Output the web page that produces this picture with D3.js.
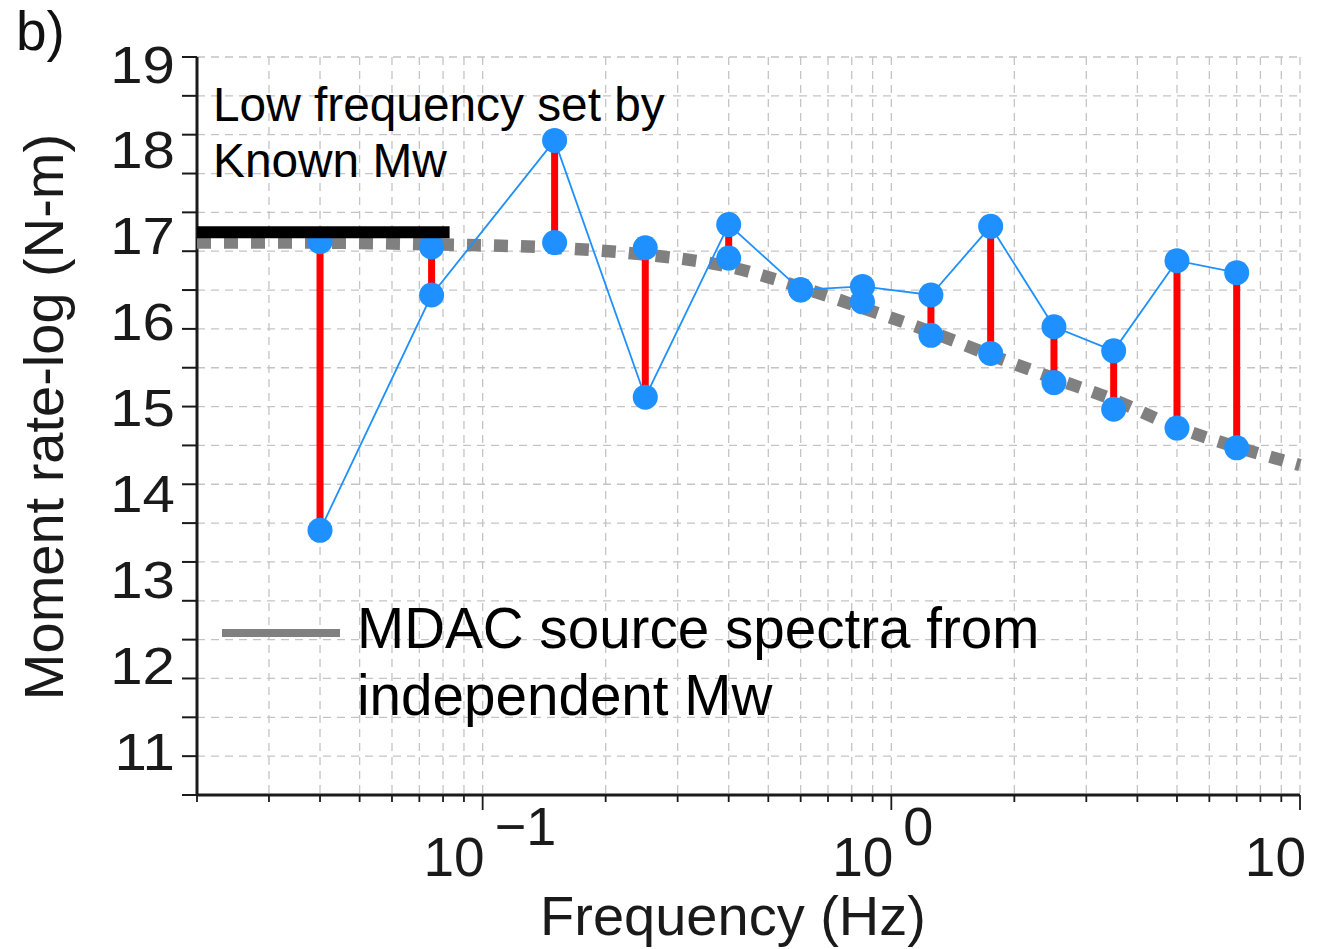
<!DOCTYPE html>
<html>
<head>
<meta charset="utf-8">
<script src="https://cdn.jsdelivr.net/npm/d3@7"></script>
<style>
  body { margin: 0; background: #fff; }
  text { font-family: "Liberation Sans", Arial, Helvetica, sans-serif; }
</style>
</head>
<body>
<div id="container"></div>
<script>
/* DATA */
// frequencies (Hz) of the spectral points
const freqs = [0.04, 0.075, 0.15, 0.25, 0.4, 0.6, 0.85, 1.25, 1.75, 2.5, 3.5, 5, 7];
// observed moment rate (log N-m), blue connected line
const observed = [13.57, 16.31, 18.11, 15.12, 17.13, 16.37, 16.41, 16.31, 17.11, 15.94, 15.66, 16.71, 16.57];
// MDAC value at the same frequencies
const mdacAtObs = [16.93, 16.87, 16.92, 16.86, 16.74, 16.37, 16.23, 15.84, 15.63, 15.29, 14.98, 14.76, 14.53];
// MDAC source spectrum (gray dotted)
const mdacFreqs = [0.02, 0.04, 0.075, 0.15, 0.25, 0.4, 0.6, 0.85, 1.25, 1.75, 2.5, 3.5, 5, 7, 10];
const mdacCurve = [16.92, 16.92, 16.90, 16.86, 16.78, 16.64, 16.40, 16.16, 15.88, 15.61, 15.34, 15.09, 14.77, 14.54, 14.33];
// low frequency level set by known Mw (black bar)
const knownMwFreqs = [0.02, 0.083];
const knownMwLevel = 17.04;
// tick labels
const yTickLabels = [11, 12, 13, 14, 15, 16, 17, 18, 19];
const xMajorTicks = [0.1, 1, 10];
const xMajorExp = ["\u22121", "0", null];

/* CONSTANTS */
const width = 1329, height = 949;
const plotLeft = 197, plotRight = 1300, plotTop = 57, plotBottom = 795;
const blue = "#1e90ff", red = "#ff0000", gray = "#808080";

const svg = d3.select("#container")
  .append("svg")
  .attr("width", width)
  .attr("height", height)
  .style("background-color", "white");

// SCALES
const x = d3.scaleLog().domain([0.02, 10]).range([plotLeft, plotRight]);
const y = d3.scaleLinear().domain([11, 19]).range([751, 64]);
// the tick / grid rows are spaced independently of the labels
const gridY = d3.scaleLinear().domain([0, 19]).range([plotBottom, plotTop]);
const gridRows = d3.range(0, 20);

// GRID
const grid = svg.append("g")
  .attr("stroke", "#c4c4c4")
  .attr("stroke-width", 1.3)
  .attr("stroke-dasharray", "8,6");

grid.selectAll("line.h")
  .data(gridRows.filter(d => d > 0))
  .join("line")
  .attr("class", "h")
  .attr("x1", plotLeft).attr("x2", plotRight)
  .attr("y1", d => gridY(d)).attr("y2", d => gridY(d));

grid.selectAll("line.v")
  .data(x.ticks().filter(d => d > 0.02))
  .join("line")
  .attr("class", "v")
  .attr("x1", d => x(d)).attr("x2", d => x(d))
  .attr("y1", plotTop).attr("y2", plotBottom);

// AXES
const axes = svg.append("g").attr("stroke", "#1a1a1a");

axes.append("line")
  .attr("x1", plotLeft).attr("x2", plotLeft)
  .attr("y1", plotTop).attr("y2", plotBottom)
  .attr("stroke-width", 3);
axes.append("line")
  .attr("x1", plotLeft).attr("x2", plotRight)
  .attr("y1", plotBottom).attr("y2", plotBottom)
  .attr("stroke-width", 3);

axes.selectAll("line.ytick")
  .data(gridRows)
  .join("line")
  .attr("class", "ytick")
  .attr("x1", plotLeft - 15).attr("x2", plotLeft)
  .attr("y1", d => gridY(d)).attr("y2", d => gridY(d))
  .attr("stroke-width", 2);

axes.selectAll("line.xtick")
  .data(x.ticks())
  .join("line")
  .attr("class", "xtick")
  .attr("x1", d => x(d)).attr("x2", d => x(d))
  .attr("y1", plotBottom)
  .attr("y2", d => xMajorTicks.includes(d) ? plotBottom + 15 : plotBottom + 7)
  .attr("stroke-width", 1.8);

// TICK LABELS
svg.selectAll("text.ylab")
  .data(yTickLabels)
  .join("text")
  .attr("class", "ylab")
  .attr("transform", d => `translate(175,${y(d) + 18.5}) scale(1.12,1)`)
  .attr("text-anchor", "end")
  .attr("font-size", 52)
  .attr("fill", "#1a1a1a")
  .text(d => d);

xMajorTicks.forEach((d, i) => {
  const last = xMajorExp[i] === null;
  svg.append("text")
    .attr("x", last ? x(d) + 6 : x(d) + 2)
    .attr("y", 876)
    .attr("text-anchor", "end")
    .attr("font-size", 55)
    .attr("fill", "#1a1a1a")
    .text("10");
  if (!last) {
    svg.append("text")
      .attr("x", x(d) + 12)
      .attr("y", 845)
      .attr("font-size", 54)
      .attr("fill", "#1a1a1a")
      .text(xMajorExp[i]);
  }
});

// AXIS TITLES
svg.append("text")
  .attr("x", 733)
  .attr("y", 935)
  .attr("text-anchor", "middle")
  .attr("font-size", 56)
  .attr("fill", "#1a1a1a")
  .text("Frequency (Hz)");

svg.append("text")
  .attr("transform", "translate(63,417) rotate(-90)")
  .attr("text-anchor", "middle")
  .attr("font-size", 56)
  .attr("fill", "#1a1a1a")
  .text("Moment rate-log (N-m)");

svg.append("text")
  .attr("x", 16)
  .attr("y", 50)
  .attr("font-size", 55)
  .attr("fill", "#111")
  .text("b)");

// MDAC CURVE (gray dotted)
const mdacLine = d3.line()
  .x(d => x(d[0]))
  .y(d => y(d[1]))
  .curve(d3.curveMonotoneX);

svg.append("path")
  .attr("d", mdacLine(d3.zip(mdacFreqs, mdacCurve)))
  .attr("fill", "none")
  .attr("stroke", gray)
  .attr("stroke-width", 12.5)
  .attr("stroke-dasharray", "14,13");

// RED RESIDUAL BARS
svg.selectAll("line.resid")
  .data(freqs.map((f, i) => ({ f, a: observed[i], b: mdacAtObs[i] })))
  .join("line")
  .attr("class", "resid")
  .attr("x1", d => x(d.f)).attr("x2", d => x(d.f))
  .attr("y1", d => y(d.a)).attr("y2", d => y(d.b))
  .attr("stroke", red)
  .attr("stroke-width", 7);

// OBSERVED LINE
const obsLine = d3.line()
  .x(d => x(d[0]))
  .y(d => y(d[1]));

svg.append("path")
  .attr("d", obsLine(d3.zip(freqs, observed)))
  .attr("fill", "none")
  .attr("stroke", blue)
  .attr("stroke-width", 1.8);

// POINTS
const pts = freqs.flatMap((f, i) => [[f, mdacAtObs[i]], [f, observed[i]]]);
svg.selectAll("circle.pt")
  .data(pts)
  .join("circle")
  .attr("class", "pt")
  .attr("cx", d => x(d[0]))
  .attr("cy", d => y(d[1]))
  .attr("r", 12.5)
  .attr("fill", blue);

// KNOWN MW BAR
svg.append("line")
  .attr("x1", x(knownMwFreqs[0]))
  .attr("x2", x(knownMwFreqs[1]))
  .attr("y1", y(knownMwLevel))
  .attr("y2", y(knownMwLevel))
  .attr("stroke", "black")
  .attr("stroke-width", 12);

// ANNOTATION
svg.append("text")
  .attr("x", 213).attr("y", 121)
  .attr("font-size", 47.8)
  .attr("fill", "black")
  .text("Low frequency set by");
svg.append("text")
  .attr("x", 213).attr("y", 177)
  .attr("font-size", 47.8)
  .attr("fill", "black")
  .text("Known Mw");

// LEGEND
svg.append("line")
  .attr("x1", 222).attr("x2", 340)
  .attr("y1", 633).attr("y2", 633)
  .attr("stroke", gray)
  .attr("stroke-width", 8);
svg.append("text")
  .attr("x", 357).attr("y", 648)
  .attr("font-size", 56.6)
  .attr("fill", "black")
  .text("MDAC source spectra from");
svg.append("text")
  .attr("x", 357).attr("y", 715)
  .attr("font-size", 56.6)
  .attr("fill", "black")
  .text("independent Mw");
</script>
</body>
</html>
